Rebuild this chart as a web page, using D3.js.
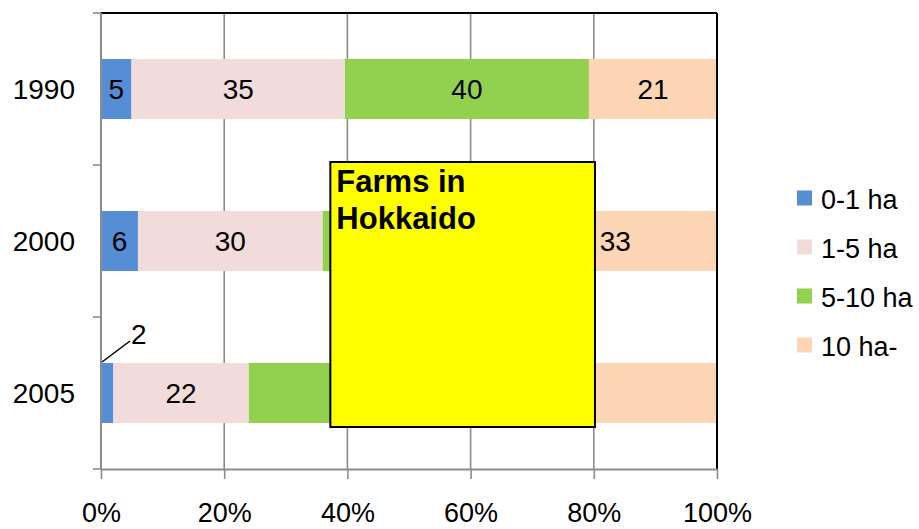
<!DOCTYPE html>
<html>
<head>
<meta charset="utf-8">
<script src="https://cdn.jsdelivr.net/npm/d3@7"></script>
<style>
  html, body { margin: 0; padding: 0; background: #ffffff; }
  svg { display: block; font-family: "Liberation Sans", Arial, sans-serif; }
</style>
</head>
<body>
<svg id="chart" width="919" height="529"></svg>
<script>
// Share of farms by size class, Hokkaido
const years = ["1990", "2000", "2005"];
const sizeClasses = ["0-1 ha", "1-5 ha", "5-10 ha", "10 ha-"];
const colors = ["#558ed5", "#f2dcdb", "#92d050", "#fcd5b5"];
const ha0to1 = [5, 6, 2];
const ha1to5 = [35, 30, 22];
const ha5to10 = [40, 31, 31];
const ha10plus = [21, 33, 45];
const xTicks = [0, 0.2, 0.4, 0.6, 0.8, 1.0];
const noteText = ["Farms in", "Hokkaido"];

const seriesValues = [ha0to1, ha1to5, ha5to10, ha10plus];

const svg = d3.select("#chart");
const plotLeft = 101, plotRight = 717, plotTop = 13, plotBottom = 469;
const fontSize = 28;

const x = d3.scaleLinear().domain([0, 1]).range([plotLeft, plotRight]);
const y = d3.scaleBand().domain(years).range([plotTop, plotBottom])
  .paddingInner(0.605).paddingOuter(0.3025);

const gridColor = "#8c8c8c";

// note box extent (in data units along x, pixels along y)
const noteX0 = x(0.3723), noteX1 = x(0.8019), noteY0 = 162, noteY1 = 427;

// vertical gridlines
svg.append("g").selectAll("line").data(xTicks.slice(1, -1)).join("line")
  .attr("x1", d => x(d)).attr("x2", d => x(d))
  .attr("y1", plotTop).attr("y2", plotBottom)
  .attr("stroke", gridColor).attr("stroke-width", 1.6);

// stacked 100% bars
const rows = years.map((yr, i) => {
  const vals = seriesValues.map(s => s[i]);
  const total = d3.sum(vals);
  let acc = 0;
  return vals.map((v, k) => {
    const seg = { year: yr, k, v, x0: acc / total, x1: (acc + v) / total };
    acc += v;
    return seg;
  });
});
const segs = rows.flat();

svg.append("g").selectAll("rect").data(segs).join("rect")
  .attr("x", d => x(d.x0))
  .attr("width", d => x(d.x1) - x(d.x0))
  .attr("y", d => y(d.year))
  .attr("height", y.bandwidth())
  .attr("fill", d => colors[d.k]);

// value labels; those that would sit under the note box are left out,
// and the tiny 2005 share gets a leader line instead
const labelX = d => x((d.x0 + d.x1) / 2);
const labelY = d => y(d.year) + y.bandwidth() / 2;
const underNote = d => labelX(d) > noteX0 - 14 && labelX(d) < noteX1 + 14 &&
  labelY(d) > noteY0 && labelY(d) < noteY1;
const labelled = segs.filter(d => !(d.year === "2005" && d.k === 0) && !underNote(d));
svg.append("g").selectAll("text").data(labelled).join("text")
  .attr("x", labelX)
  .attr("y", d => labelY(d) + 10)
  .attr("text-anchor", "middle")
  .attr("font-size", fontSize)
  .attr("fill", "#000")
  .text(d => d.v);

const small = segs.find(d => d.year === "2005" && d.k === 0);
svg.append("line")
  .attr("x1", x(small.x0) + 1).attr("y1", y("2005") - 1)
  .attr("x2", x(small.x0) + 29).attr("y2", y("2005") - 22)
  .attr("stroke", "#000").attr("stroke-width", 1.5);
svg.append("text")
  .attr("x", x(small.x0) + 30).attr("y", y("2005") - 19)
  .attr("font-size", fontSize).attr("fill", "#000")
  .text(small.v);

// plot frame: top and right in black, axes in grey
svg.append("line").attr("x1", plotLeft).attr("x2", plotRight).attr("y1", plotTop).attr("y2", plotTop)
  .attr("stroke", "#000").attr("stroke-width", 2);
svg.append("line").attr("x1", plotRight).attr("x2", plotRight).attr("y1", plotTop).attr("y2", plotBottom)
  .attr("stroke", "#000").attr("stroke-width", 2);

// x axis
const xAxis = svg.append("g").attr("transform", `translate(0,${plotBottom})`)
  .call(d3.axisBottom(x).tickValues(xTicks).tickFormat(d3.format(".0%"))
    .tickSize(10).tickSizeOuter(0).tickPadding(24));
xAxis.select(".domain").attr("stroke", gridColor).attr("stroke-width", 2);
xAxis.selectAll(".tick line").attr("stroke", gridColor).attr("stroke-width", 1.6);
xAxis.selectAll("text").attr("font-size", 27).attr("fill", "#000")
  .attr("font-family", "Liberation Sans, Arial, sans-serif");

// y axis: ticks sit on band boundaries
const step = y.step();
const boundaries = [plotTop, ...years.map(yr => y(yr) + y.bandwidth() + step * y.paddingInner() / 2)];
const yAxisG = svg.append("g");
yAxisG.append("line").attr("x1", plotLeft).attr("x2", plotLeft).attr("y1", plotTop).attr("y2", plotBottom + 1)
  .attr("stroke", gridColor).attr("stroke-width", 2);
yAxisG.selectAll("line.tick").data(boundaries).join("line").attr("class", "tick")
  .attr("x1", plotLeft - 8).attr("x2", plotLeft)
  .attr("y1", d => d).attr("y2", d => d)
  .attr("stroke", gridColor).attr("stroke-width", 1.6);
yAxisG.selectAll("text").data(years).join("text")
  .attr("x", 75)
  .attr("y", d => y(d) + y.bandwidth() / 2 + 10)
  .attr("text-anchor", "end")
  .attr("font-size", fontSize).attr("fill", "#000")
  .text(d => d);

// legend
const legend = svg.append("g");
sizeClasses.forEach((name, i) => {
  const cy = 198 + i * 49;
  legend.append("rect").attr("x", 797).attr("y", cy - 7.5).attr("width", 15).attr("height", 15)
    .attr("fill", colors[i]);
  legend.append("text").attr("x", 821).attr("y", cy + 11)
    .attr("font-size", 27).attr("fill", "#000").text(name);
});

// note box
const note = svg.append("g");
note.append("rect").attr("x", noteX0).attr("y", noteY0)
  .attr("width", noteX1 - noteX0).attr("height", noteY1 - noteY0)
  .attr("fill", "#ffff00").attr("stroke", "#000").attr("stroke-width", 2);
note.append("text").attr("x", noteX0 + 6).attr("y", 192)
  .attr("font-size", 31).attr("font-weight", "bold").attr("fill", "#000")
  .selectAll("tspan").data(noteText).join("tspan")
  .attr("x", noteX0 + 6).attr("dy", (d, i) => i === 0 ? 0 : 37)
  .text(d => d);
</script>
</body>
</html>
